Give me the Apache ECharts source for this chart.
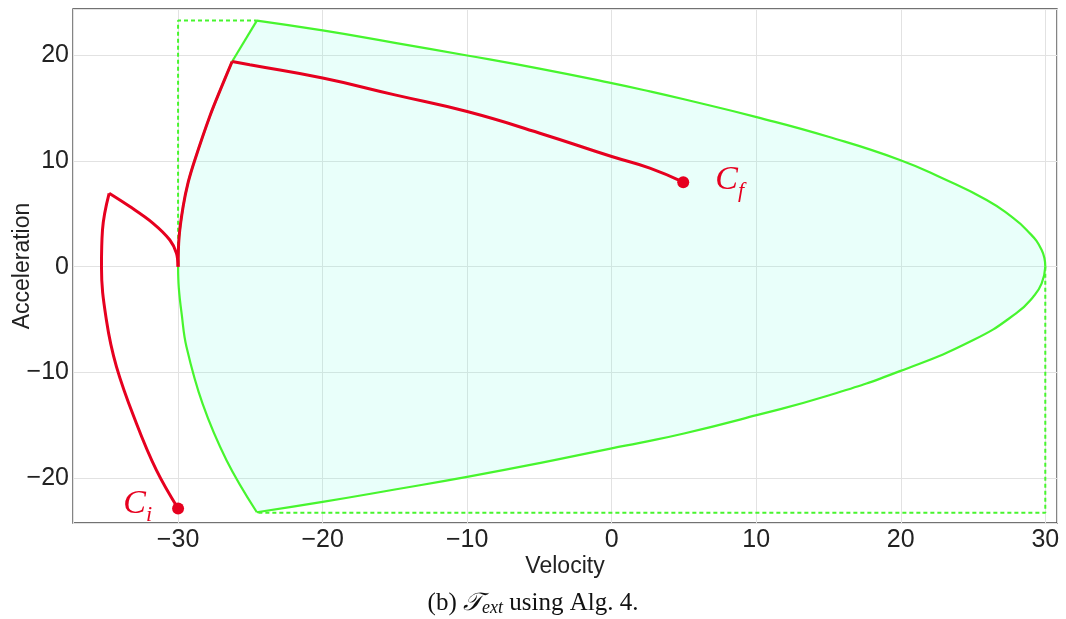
<!DOCTYPE html>
<html><head><meta charset="utf-8">
<script src="https://cdn.jsdelivr.net/npm/echarts@6/dist/echarts.min.js"></script>
<style>html,body{margin:0;padding:0;background:#fff}#c{width:1066px;height:619px}</style>
</head><body><div id="c"></div>
<script>
// ---- data ----
const xTickLabels = [-30, -20, -10, 0, 10, 20, 30];
const yTickLabels = [-20, -10, 0, 10, 20];
// green envelope boundary pieces [velocity, acceleration]
const envUpperLeft = [[-30,0],[-29.93,2.8],[-29.65,5.69],[-29.3,8.0],[-28.84,10.11],[-27.81,14.22],[-27.0,17.0],[-26.26,19.43]];
const envUpperEdge = [[-26.26,19.43],[-24.55,23.3]];
const envTop = [[-24.55,23.3],[-20,22.37],[-15,21.2],[-10,20.0],[-5,18.75],[0,17.38],[2.64,16.6],[5,15.85],[10.03,14.16],[15,12.3],[19.94,10.11],[23,8.3],[25.94,6.32],[27.5,4.9],[28.71,3.48],[29.75,1.58],[30,0]];
const envBottom = [[30,0],[29.75,-1.58],[29.17,-2.84],[28,-4.4],[25.02,-6.95],[19.94,-9.89],[15,-12.2],[10.03,-14.06],[5,-15.8],[1.95,-16.68],[0,-17.2],[-5,-18.6],[-10,-19.9],[-15,-21.1],[-20,-22.27],[-24.55,-23.25]];
const envLowerLeft = [[-24.55,-23.25],[-26.65,-18.32],[-28.3,-13.0],[-29.42,-7.58],[-29.75,-4.5],[-29.95,-2.0],[-30,0]];
// dashed bounds
const dashUpper = [[-30,0],[-30,23.3],[-24.55,23.3]];
const dashLower = [[30,0],[30,-23.3],[-24.55,-23.3]];
// red trajectory pieces
const redA = [[-30,-22.9],[-31.5,-19.27],[-32.88,-14.85],[-34.26,-9.48],[-34.96,-5.05],[-35.3,0],[-35.23,3.48],[-34.77,6.95]];
const redB = [[-34.77,6.95],[-33.34,5.69],[-31.73,4.11],[-30.57,2.53],[-30.11,1.27],[-30,0]];
const redC = [[-30,0],[-29.93,2.8],[-29.65,5.69],[-29.3,8.0],[-28.84,10.11],[-27.81,14.22],[-27.0,17.0],[-26.26,19.43]];
const redD = [[-26.26,19.43],[-25.04,19.12],[-20,17.86],[-15,16.27],[-10,14.69],[-4.97,12.64],[0,10.43],[2.64,9.33],[4.95,8.0]];
const pointCi = [-30, -22.9];
const pointCf = [4.95, 8.0];

const GREEN = '#47f52e';
const RED = '#e6001f';
const fillPoly = [].concat(envUpperLeft, envUpperEdge, envTop, envBottom, envLowerLeft);

function fmt(v){
  if (Math.abs(v - Math.round(v/10)*10) > 1e-6) return '';
  return v < 0 ? '\u2212' + Math.abs(v) : String(v);
}
function lineSeries(data, color, width, smooth, dashed, z){
  return {type:'line', data:data, showSymbol:false, symbol:'none', smooth:smooth, z:z,
    lineStyle:{color:color, width:width, type: dashed ? [4,3] : 'solid'}, silent:true, animation:false};
}
const chart = echarts.init(document.getElementById('c'), null, {renderer:'canvas'});
const axisFont = {fontFamily:'Liberation Sans', fontSize:25, color:'#222'};
chart.setOption({
  animation:false,
  backgroundColor:'#fff',
  grid:{left:73, right:9, top:9, bottom:96, containLabel:false, outerBoundsMode:'none',
    show:true, borderColor:'#444', borderWidth:1.3, backgroundColor:'transparent'},
  xAxis:{type:'value', min:-37.27, max:30.81, splitNumber:7,
    axisLine:{show:false}, axisTick:{show:false},
    axisLabel:Object.assign({formatter:fmt, margin:5, showMinLabel:false, showMaxLabel:false}, axisFont),
    splitLine:{show:true, lineStyle:{color:'#e2e2e2', width:1}},
    name:'Velocity', nameLocation:'middle', nameGap:32, nameMoveOverlap:false,
    nameTextStyle:{fontFamily:'Liberation Sans', fontSize:23, color:'#222'}},
  yAxis:{type:'value', min:-24.27, max:24.4, splitNumber:5,
    axisLine:{show:false}, axisTick:{show:false},
    axisLabel:Object.assign({formatter:fmt, margin:4, showMinLabel:false, showMaxLabel:false}, axisFont),
    splitLine:{show:true, lineStyle:{color:'#e2e2e2', width:1}},
    name:'Acceleration', nameLocation:'middle', nameGap:39, nameMoveOverlap:false,
    nameTextStyle:{fontFamily:'Liberation Sans', fontSize:23, color:'#222'}},
  graphic:[{type:'text', left:'center', top:591, style:{
    text:'{r|(b) }{t|\uD835\uDCAF}{sub|ext}{r| using Alg. 4.}',
    rich:{
      r:{fontFamily:'Liberation Serif', fontSize:25, fill:'#111'},
      t:{fontFamily:'DejaVu Serif', fontStyle:'italic', fontSize:25, fill:'#111'},
      sub:{fontFamily:'Liberation Serif', fontStyle:'italic', fontSize:18, fill:'#111', padding:[10,0,0,0]}
    }}}],
  series:[
    {type:'custom', silent:true, z:1, data:[[0,0]], renderItem:function(params, api){
      const pts = fillPoly.map(function(p){return api.coord(p);});
      return {type:'polygon', shape:{points:pts, smooth:0.2}, style:{fill:'rgba(120,255,225,0.16)'}};
    }},
    lineSeries(dashUpper, GREEN, 2, false, true, 2),
    lineSeries(dashLower, GREEN, 2, false, true, 2),
    lineSeries(envUpperLeft, GREEN, 2.2, 0.3, false, 3),
    lineSeries(envUpperEdge, GREEN, 2.2, false, false, 3),
    lineSeries(envTop, GREEN, 2.2, 0.5, false, 3),
    lineSeries(envBottom, GREEN, 2.2, 0.5, false, 3),
    lineSeries(envLowerLeft, GREEN, 2.2, 0.4, false, 3),
    lineSeries(redA, RED, 3, 0.4, false, 4),
    lineSeries(redB, RED, 3, 0.35, false, 4),
    lineSeries(redC, RED, 3, 0.35, false, 4),
    lineSeries(redD, RED, 3, 0.5, false, 4),
    {type:'scatter', z:5, silent:true, symbolSize:12, itemStyle:{color:RED, opacity:1},
      data:[
        {value:pointCi, label:{show:true, position:'left', distance:20, offset:[0,-4], formatter:'{c|C}{s|i}'}},
        {value:pointCf, label:{show:true, position:'right', distance:26, offset:[0,-2], formatter:'{c|C}{s|f}'}}
      ],
      label:{rich:{
        c:{fontFamily:'Liberation Serif', fontStyle:'italic', fontSize:34, color:RED},
        s:{fontFamily:'Liberation Serif', fontStyle:'italic', fontSize:22, color:RED, padding:[22,0,0,0]}
      }}
    }
  ]
});
</script></body></html>
